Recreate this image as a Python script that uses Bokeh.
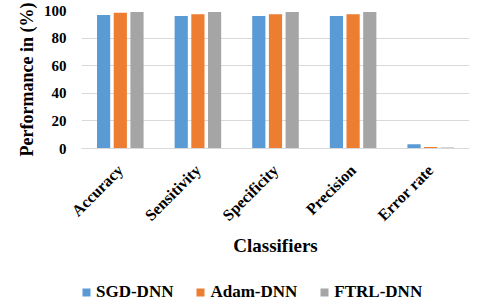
from math import pi
from bokeh.plotting import figure
from bokeh.layouts import column
from bokeh.models import ColumnDataSource, FactorRange, Range1d, FixedTicker, Legend, LegendItem, Title
from bokeh.transform import dodge
from bokeh.embed import file_html
from bokeh.resources import INLINE

categories = ["Accuracy", "Sensitivity", "Specificity", "Precision", "Error rate"]
sgd_dnn = [96.7, 96.0, 96.0, 96.0, 3.1]
adam_dnn = [98.4, 97.2, 97.2, 97.2, 1.0]
ftrl_dnn = [98.9, 98.9, 98.9, 98.9, 0.8]
series_names = ["SGD-DNN", "Adam-DNN", "FTRL-DNN"]
y_ticks = [0, 20, 40, 60, 80, 100]

colors = ["#5B9BD5", "#ED7D31", "#A5A5A5"]
FONT = "'Liberation Serif'"

src = ColumnDataSource(dict(cat=categories, sgd=sgd_dnn, adam=adam_dnn, ftrl=ftrl_dnn))

p = figure(width=480, height=272, output_backend="svg", toolbar_location=None,
           x_range=FactorRange(factors=categories, range_padding=0),
           y_range=Range1d(0, 100),
           min_border_left=81, min_border_right=11, min_border_top=10, min_border_bottom=124)
p.outline_line_color = None
p.background_fill_color = "white"
p.border_fill_color = "white"

bw = 0.17
offs = [-0.215, 0.0, 0.215]
keys = ["sgd", "adam", "ftrl"]
for k, o, c in zip(keys, offs, colors):
    p.vbar(x=dodge("cat", o, range=p.x_range), top=k, width=bw, source=src,
           fill_color=c, line_color=None)

p.xgrid.grid_line_color = None
p.ygrid.grid_line_color = "#D9D9D9"
p.ygrid.grid_line_width = 1

p.yaxis.ticker = FixedTicker(ticks=y_ticks)
p.yaxis.axis_line_color = None
p.yaxis.major_tick_line_color = None
p.yaxis.minor_tick_line_color = None
p.yaxis.major_tick_out = 0
p.yaxis.major_tick_in = 0
p.yaxis.major_label_standoff = 15
p.yaxis.major_label_text_font = FONT
p.yaxis.major_label_text_font_style = "bold"
p.yaxis.major_label_text_font_size = "15px"
p.yaxis.major_label_text_color = "black"

ytitle = Title(text="Performance in (%)", align="center", offset=-14, standoff=8,
               text_font=FONT, text_font_style="bold", text_font_size="18px",
               text_color="black")
p.add_layout(ytitle, "left")

p.xaxis.axis_line_color = "#D9D9D9"
p.xaxis.major_tick_line_color = None
p.xaxis.minor_tick_line_color = None
p.xaxis.major_tick_out = 0
p.xaxis.major_tick_in = 0
p.xaxis.major_label_orientation = pi / 4
p.xaxis.major_label_standoff = 19
p.xaxis.major_label_text_font = FONT
p.xaxis.major_label_text_font_style = "bold"
p.xaxis.major_label_text_font_size = "16px"
p.xaxis.major_label_text_color = "black"
p.xaxis.axis_label = "Classifiers"
p.xaxis.axis_label_text_font = FONT
p.xaxis.axis_label_text_font_style = "bold"
p.xaxis.axis_label_text_font_size = "19px"
p.xaxis.axis_label_text_color = "black"
p.xaxis.axis_label_standoff = 2

# legend strip (zero-size bars only serve as legend swatches)
q = figure(width=480, height=36, output_backend="svg", toolbar_location=None,
           x_range=Range1d(0, 1), y_range=Range1d(0, 1),
           x_axis_type=None, y_axis_type=None,
           min_border_left=0, min_border_right=0, min_border_top=0, min_border_bottom=0)
q.outline_line_color = None
q.xgrid.grid_line_color = None
q.ygrid.grid_line_color = None
items = []
for n, c in zip(series_names, colors):
    r = q.vbar(x=[0.5], top=[0], bottom=[0], width=0, fill_color=c, line_color=None)
    items.append(LegendItem(label=n, renderers=[r]))
legend = Legend(items=items, orientation="horizontal", location=(0, 6),
                glyph_width=10, glyph_height=10, label_standoff=5, spacing=22,
                padding=0, margin=0, border_line_color=None, background_fill_alpha=0,
                label_text_font=FONT, label_text_font_style="bold",
                label_text_font_size="17px", label_text_color="black")
q.add_layout(legend, "center")

layout = column(p, q, spacing=0)
open("out.html", "w").write(file_html(layout, INLINE))
